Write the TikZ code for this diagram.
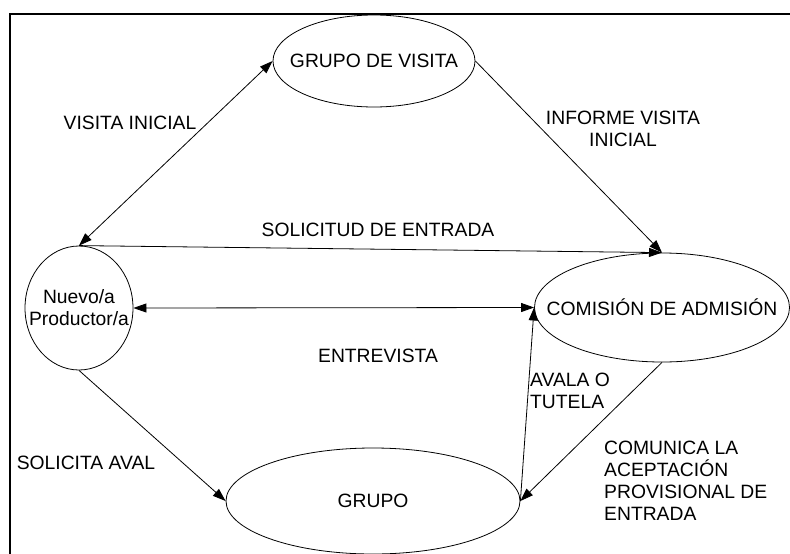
\documentclass[tikz,border=0pt]{standalone}
\usepackage{fontspec}
\setmainfont{Liberation Sans}
\usetikzlibrary{shapes.geometric,arrows.meta}
\begin{document}
\begin{tikzpicture}[x=1pt,y=-1pt,
  every node/.style={font=\fontsize{19.3}{22}\selectfont},
  state/.style={draw,ellipse,line width=0.8pt,inner sep=0pt},
  conn/.style={line width=0.8pt,-{Triangle[length=13pt,width=9pt]}},
  biconn/.style={line width=0.8pt,{Triangle[length=13pt,width=9pt]}-{Triangle[length=13pt,width=9pt]}},
  lbl/.style={inner sep=0pt,align=center}]
\useasboundingbox (0,0) rectangle (790,554);
\fill[white] (0,0) rectangle (790,554);
\draw[line width=2.6pt] (10,556) -- (10,14) -- (792,14);
% states
\node[state,minimum width=202pt,minimum height=92pt,label={center:GRUPO DE VISITA}] (gv) at (374,61) {};
\node[state,minimum width=108pt,minimum height=124pt,label={[align=center]center:Nuevo/a\\Productor/a}] (nuevo) at (79,308) {};
\node[state,minimum width=255pt,minimum height=109pt,label={center:COMISIÓN DE ADMISIÓN}] (com) at (662,307.5) {};
\node[state,minimum width=294pt,minimum height=106pt,label={center:GRUPO}] (grupo) at (373,501) {};
% connectors
\draw[biconn] (nuevo.north) -- (gv.west);
\draw[conn] (gv.east) -- (com.north);
\draw[conn] (nuevo.north) -- (com.north);
\draw[biconn] (nuevo.east) -- (com.west);
\draw[conn] (nuevo.south) -- (grupo.west);
\draw[conn] (grupo.east) -- (com.west);
\draw[conn] (com.south) -- (grupo.east);
% labels
\node[lbl] (l1) at (130,123) {VISITA INICIAL};
\node[lbl] (l2) at (623,129) {INFORME VISITA\\INICIAL};
\node[lbl] (l3) at (378,230) {SOLICITUD DE ENTRADA};
\node[lbl] (l4) at (378,356) {ENTREVISTA};
\node[lbl] (l5) at (86,463) {SOLICITA AVAL};
\node[lbl,align=left,anchor=west] (l6) at (530,391) {AVALA O\\TUTELA};
\node[lbl,align=left,anchor=west] (l7) at (604,481) {COMUNICA LA\\ACEPTACIÓN\\PROVISIONAL DE\\ENTRADA};
\end{tikzpicture}
\end{document}
